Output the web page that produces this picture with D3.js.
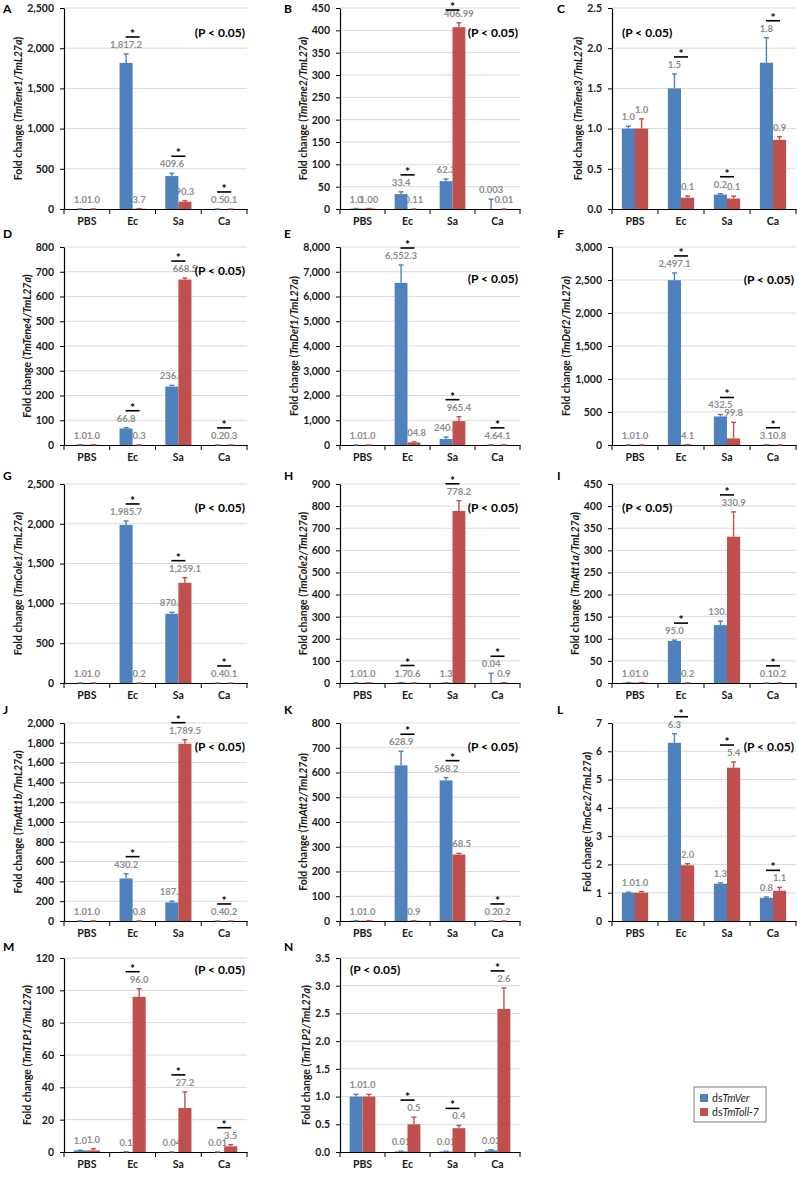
<!DOCTYPE html>
<html>
<head>
<meta charset="utf-8">
<script src="https://cdn.jsdelivr.net/npm/d3@7"></script>
<style>
  body { margin: 0; background: #fff; }
  text { font-family: Lato, "Open Sans", sans-serif; }
</style>
</head>
<body>
<svg id="fig" width="797" height="1178"></svg>
<script>
// ---- data ----
const categories = ['PBS', 'Ec', 'Sa', 'Ca'];
const series = ['dsTmVer', 'dsTmToll-7'];
const panelLetters = ['A', 'B', 'C', 'D', 'E', 'F', 'G', 'H', 'I', 'J', 'K', 'L', 'M', 'N'];
const genes = ['TmTene1', 'TmTene2', 'TmTene3', 'TmTene4', 'TmDef1', 'TmDef2', 'TmCole1',
  'TmCole2', 'TmAtt1a', 'TmAtt1b', 'TmAtt2', 'TmCec2', 'TmTLP1', 'TmTLP2'];
const yMax = [2500, 450, 2.5, 800, 8000, 3000, 2500, 900, 450, 2000, 800, 7, 120, 3.5];
const yStep = [500, 50, 0.5, 100, 1000, 500, 500, 100, 50, 200, 100, 1, 20, 0.5];
const tickFormats = [',', ',', '.1f', ',', ',', ',', ',', ',', ',', ',', ',', ',', ',', '.1f'];

const blueVals = [
  [1.0, 1817.2, 409.6, 0.5], [1.0, 33.4, 62.3, 0.003], [1.0, 1.5, 0.18, 1.82],
  [1.0, 66.8, 236.0, 0.2], [1.0, 6552.3, 240.8, 4.6], [1.0, 2497.1, 432.5, 3.1],
  [1.0, 1985.7, 870.1, 0.4], [1.0, 1.7, 1.3, 0.04], [1.0, 95.0, 130.9, 0.1],
  [1.0, 430.2, 187.6, 0.4], [1.0, 628.9, 568.2, 0.2], [1.0, 6.3, 1.32, 0.82],
  [1.0, 0.1, 0.04, 0.01], [1.0, 0.01, 0.01, 0.03]
];
const redVals = [
  [1.0, 3.7, 90.3, 0.1], [1.0, 0.11, 406.99, 0.01], [1.0, 0.14, 0.13, 0.86],
  [1.0, 0.3, 668.5, 0.3], [1.0, 104.8, 965.4, 4.1], [1.0, 4.1, 99.8, 0.8],
  [1.0, 0.2, 1259.1, 0.1], [1.0, 0.6, 778.2, 0.9], [1.0, 0.2, 330.9, 0.2],
  [1.0, 0.8, 1789.5, 0.2], [1.0, 0.9, 268.5, 0.2], [1.0, 1.97, 5.42, 1.07],
  [1.0, 96.0, 27.2, 3.5], [1.0, 0.5, 0.43, 2.58]
];
const blueErr = [
  [0.05, 111, 35, 0.1], [0.1, 5, 5, 22], [0.03, 0.18, 0.01, 0.31],
  [0.1, 3, 5, 0.1], [0.1, 720, 80, 1], [0.1, 110, 30, 1],
  [0.1, 50, 18, 0.1], [0.1, 0.5, 0.3, 44], [0.1, 2, 9, 0.05],
  [0.1, 48, 12, 0.1], [0.1, 57, 11, 0.05], [0.02, 0.32, 0.03, 0.03],
  [0.1, 0.05, 0.02, 0.01], [0.04, 0.005, 0.005, 0.01]
];
const redErr = [
  [0.1, 1, 12, 0.05], [0.1, 0.05, 10, 0.005], [0.12, 0.02, 0.03, 0.04],
  [0.1, 0.1, 6, 0.1], [0.1, 20, 180, 1], [0.1, 1, 244, 0.2],
  [0.1, 0.1, 64, 0.05], [0.1, 0.2, 46, 0.3], [0.1, 0.1, 56, 0.1],
  [0.1, 0.2, 42, 0.1], [0.1, 0.2, 5, 0.05], [0.04, 0.06, 0.2, 0.12],
  [1, 5, 10, 1], [0.04, 0.13, 0.05, 0.38]
];
const blueLabels = [
  ['1.0', '1,817.2', '409.6', '0.5'], ['1.0', '33.4', '62.3', '0.003'], ['1.0', '1.5', '0.2', '1.8'],
  ['1.0', '66.8', '236.0', '0.2'], ['1.0', '6,552.3', '240.8', '4.6'], ['1.0', '2,497.1', '432.5', '3.1'],
  ['1.0', '1,985.7', '870.1', '0.4'], ['1.0', '1.7', '1.3', '0.04'], ['1.0', '95.0', '130.9', '0.1'],
  ['1.0', '430.2', '187.6', '0.4'], ['1.0', '628.9', '568.2', '0.2'], ['1.0', '6.3', '1.3', '0.8'],
  ['1.0', '0.1', '0.04', '0.01'], ['1.0', '0.01', '0.01', '0.03']
];
const redLabels = [
  ['1.0', '3.7', '90.3', '0.1'], ['1.00', '0.11', '406.99', '0.01'], ['1.0', '0.1', '0.1', '0.9'],
  ['1.0', '0.3', '668.5', '0.3'], ['1.0', '104.8', '965.4', '4.1'], ['1.0', '4.1', '99.8', '0.8'],
  ['1.0', '0.2', '1,259.1', '0.1'], ['1.0', '0.6', '778.2', '0.9'], ['1.0', '0.2', '330.9', '0.2'],
  ['1.0', '0.8', '1,789.5', '0.2'], ['1.0', '0.9', '268.5', '0.2'], ['1.0', '2.0', '5.4', '1.1'],
  ['1.0', '96.0', '27.2', '3.5'], ['1.0', '0.5', '0.4', '2.6']
];
// which categories carry a significance mark
const sigFlags = [
  [0, 1, 1, 1], [0, 1, 1, 0], [0, 1, 1, 1], [0, 1, 1, 1], [0, 1, 1, 1], [0, 1, 1, 1], [0, 1, 1, 1],
  [0, 1, 1, 1], [0, 1, 1, 1], [0, 1, 1, 1], [0, 1, 1, 1], [0, 1, 1, 1], [0, 1, 1, 1], [0, 1, 1, 1]
];

// ---- layout ----
const colAxisX = [64, 340, 612];
const colRight = [247, 520, 796];
const letterX = [3, 284, 557];
const rowTop = [8, 247, 484, 723, 958];
const rowBase = [209, 445, 683, 921, 1152];
const letterBase = [13, 238, 480, 714, 951];
const pAnchor = ['end', 'end', 'start', 'end', 'end', 'end', 'end', 'end', 'start', 'end', 'end', 'end', 'end', 'start'];
const pDy = [29, 29, 29, 28, 36, 37, 28, 28, 28, 28, 28, 28, 16, 16];

const colors = ['#4f81bd', '#c0504d'];
const svg = d3.select('#fig');

panelLetters.forEach((letter, i) => {
  const col = i % 3, row = Math.floor(i / 3);
  const x0 = colAxisX[col], x1 = colRight[col];
  const yTop = rowTop[row], yb = rowBase[row];

  const x = d3.scaleBand().domain(categories).range([x0, x1]);
  const xs = d3.scaleBand().domain(series).range([0, x.bandwidth()]).paddingOuter(0.75);
  const y = d3.scaleLinear().domain([0, yMax[i]]).range([yb, yTop]);
  const ticks = d3.range(0, yMax[i] + yStep[i] / 2, yStep[i]);

  const g = svg.append('g');

  // gridlines
  g.selectAll('line.grid').data(ticks.slice(1)).join('line')
    .attr('class', 'grid')
    .attr('x1', x0).attr('x2', x1)
    .attr('y1', d => y(d)).attr('y2', d => y(d))
    .attr('stroke', '#d9d9d9');

  // y axis
  const ya = g.append('g')
    .attr('transform', `translate(${x0},0)`)
    .call(d3.axisLeft(y).tickValues(ticks).tickFormat(d3.format(tickFormats[i]))
      .tickSize(4).tickSizeOuter(0).tickPadding(6));
  ya.select('.domain').attr('stroke', '#000').attr('stroke-width', 1.2);
  ya.selectAll('.tick line').attr('stroke', '#000');
  ya.selectAll('.tick text')
    .attr('font-size', '10.5px').attr('font-weight', 'bold').attr('fill', '#1a1a1a')
    .attr('font-family', 'Lato, sans-serif');
  const tickLeft = x0 + ya.node().getBBox().x;

  // x axis
  const xa = g.append('g')
    .attr('transform', `translate(0,${yb})`)
    .call(d3.axisBottom(x).tickSize(0).tickPadding(9));
  xa.select('.domain').attr('stroke', '#000').attr('stroke-width', 1.2);
  xa.selectAll('.tick text')
    .attr('font-size', '10.5px').attr('font-weight', 'bold').attr('fill', '#1a1a1a')
    .attr('font-family', 'Lato, sans-serif');
  const bounds = categories.map(c => x(c)).concat([x1]);
  g.selectAll('line.xtick').data(bounds).join('line')
    .attr('class', 'xtick')
    .attr('x1', d => d).attr('x2', d => d)
    .attr('y1', yb).attr('y2', yb + 5)
    .attr('stroke', '#000');

  // data rows for this panel
  const rows = [];
  categories.forEach((c, k) => {
    rows.push({ c, s: series[0], v: blueVals[i][k], e: blueErr[i][k], lab: blueLabels[i][k], col: colors[0] });
    rows.push({ c, s: series[1], v: redVals[i][k], e: redErr[i][k], lab: redLabels[i][k], col: colors[1] });
  });
  const cx = d => x(d.c) + xs(d.s) + xs.bandwidth() / 2;

  // value labels (sit behind the bars)
  g.selectAll('text.val').data(rows).join('text')
    .attr('class', 'val')
    .attr('x', cx)
    .attr('y', d => y(d.v + d.e) - 6)
    .attr('text-anchor', 'middle')
    .attr('font-size', '9.5px').attr('font-weight', 'bold')
    .attr('fill', '#8c8c8c')
    .text(d => d.lab);

  // bars
  g.selectAll('rect.bar').data(rows).join('rect')
    .attr('class', 'bar')
    .attr('x', d => x(d.c) + xs(d.s))
    .attr('width', xs.bandwidth())
    .attr('y', d => y(d.v))
    .attr('height', d => yb - y(d.v))
    .attr('fill', d => d.col);

  // error bars
  const eg = g.selectAll('g.err').data(rows).join('g').attr('class', 'err')
    .attr('stroke', d => d.col).attr('stroke-width', 1.4);
  eg.append('line')
    .attr('x1', cx).attr('x2', cx)
    .attr('y1', d => y(d.v)).attr('y2', d => y(d.v + d.e));
  eg.append('line')
    .attr('x1', d => cx(d) - 2.5).attr('x2', d => cx(d) + 2.5)
    .attr('y1', d => y(d.v + d.e)).attr('y2', d => y(d.v + d.e));

  // significance marks
  const sig = categories.filter((c, k) => sigFlags[i][k]).map(c => {
    const k = categories.indexOf(c);
    const top = Math.max(blueVals[i][k] + blueErr[i][k], redVals[i][k] + redErr[i][k]);
    return { c, yy: Math.max(y(top) - 17, 10) };
  });
  const sg = g.selectAll('g.sig').data(sig).join('g').attr('class', 'sig');
  sg.append('line')
    .attr('x1', d => x(d.c) + x.bandwidth() / 2 - 7)
    .attr('x2', d => x(d.c) + x.bandwidth() / 2 + 7)
    .attr('y1', d => d.yy).attr('y2', d => d.yy)
    .attr('stroke', '#000').attr('stroke-width', 1.6);
  sg.append('text')
    .attr('x', d => x(d.c) + x.bandwidth() / 2)
    .attr('y', d => d.yy + 1)
    .attr('text-anchor', 'middle')
    .attr('font-size', '12px').attr('font-weight', 'bold')
    .attr('font-family', 'Arial, "Liberation Sans", sans-serif')
    .text('*');

  // P value note
  g.append('text')
    .attr('x', pAnchor[i] === 'end' ? x1 - 2 : x0 + 10)
    .attr('y', yTop + pDy[i])
    .attr('text-anchor', pAnchor[i])
    .attr('font-family', '"Liberation Serif", "Times New Roman", serif')
    .attr('font-size', '12px').attr('font-weight', 'bold')
    .text('(P < 0.05)');

  // y axis title
  const lx = tickLeft - 5;
  const ly = (yTop + yb) / 2;
  const title = g.append('text')
    .attr('transform', `translate(${lx},${ly}) rotate(-90)`)
    .attr('text-anchor', 'middle')
    .attr('font-size', '10.5px').attr('font-weight', 'bold').attr('fill', '#1a1a1a');
  title.append('tspan').text('Fold change (');
  title.append('tspan').attr('font-style', 'italic').text(genes[i] + '/TmL27a');
  title.append('tspan').text(')');

  // panel letter
  svg.append('text')
    .attr('x', letterX[col]).attr('y', letterBase[row])
    .attr('font-family', 'Arial, "Liberation Sans", sans-serif')
    .attr('font-size', '12px').attr('font-weight', 'bold')
    .text(letter);
});

// legend
const legend = svg.append('g').attr('transform', 'translate(694,1087)');
legend.append('rect')
  .attr('width', 72).attr('height', 35)
  .attr('fill', '#fff').attr('stroke', '#7f7f7f');
series.forEach((s, k) => {
  const item = legend.append('g').attr('transform', `translate(6,${7 + k * 14})`);
  item.append('rect').attr('width', 8).attr('height', 8).attr('fill', colors[k]);
  const t = item.append('text').attr('x', 12).attr('y', 8)
    .attr('font-size', '10.5px').attr('fill', '#1a1a1a');
  t.append('tspan').text('ds');
  t.append('tspan').attr('font-style', 'italic').text(s.slice(2));
});
</script>
</body>
</html>
